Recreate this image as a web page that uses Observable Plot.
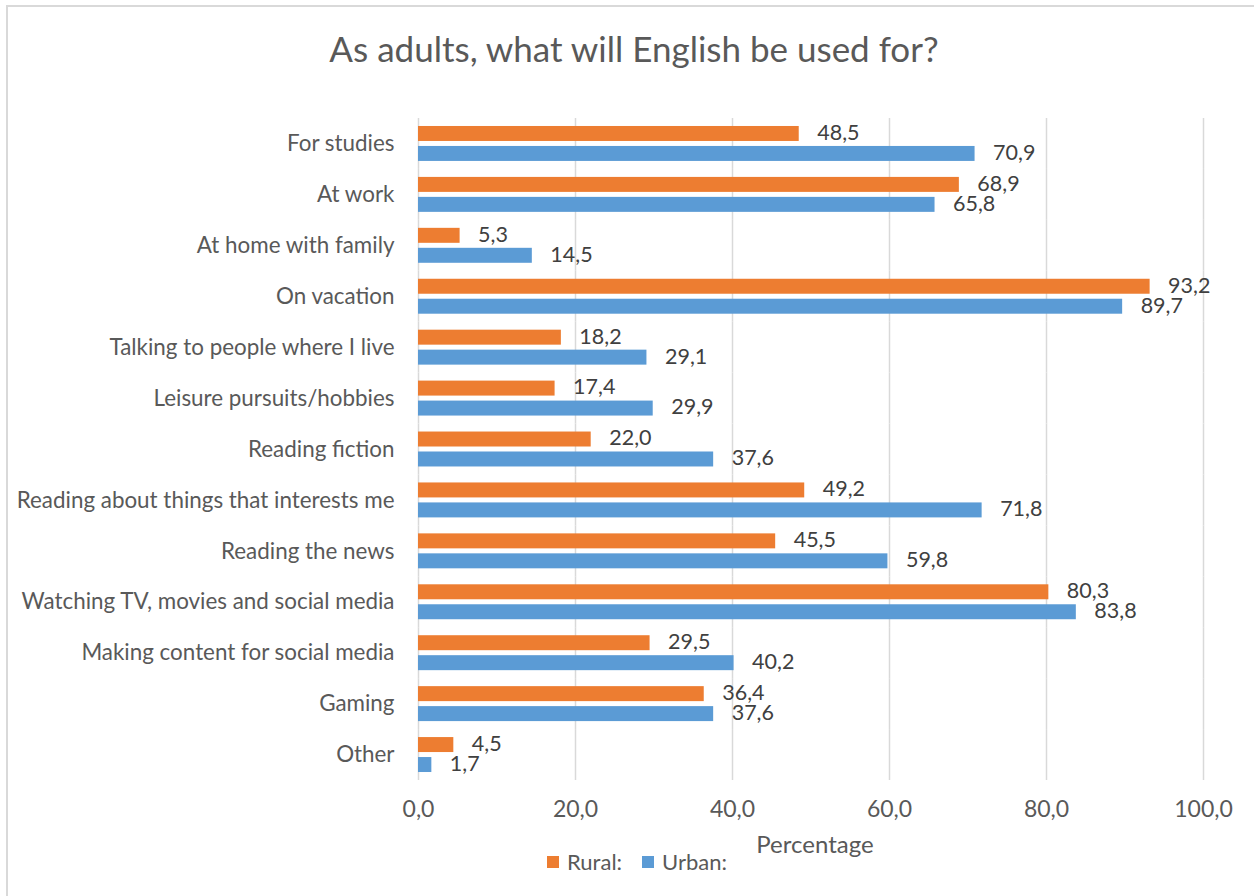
<!DOCTYPE html>
<html>
<head>
<meta charset="utf-8">
<script src="https://cdn.jsdelivr.net/npm/d3@7"></script>
<script src="https://cdn.jsdelivr.net/npm/@observablehq/plot@0.6"></script>
<style>
  html, body { margin: 0; padding: 0; background: #fff; }
  #wrap { position: relative; width: 1254px; height: 896px; overflow: hidden; font-family: Lato, "Open Sans", sans-serif; color: #595959; }
  #border { position: absolute; left: 6px; top: 5px; width: 1260px; height: 900px; border: 2px solid #d9d9d9; pointer-events: none; }
  #title { height: 100px; line-height: 96px; text-align: center; font-size: 35px; color: #595959; margin: 0; font-weight: normal; padding-left: 14px; box-sizing: border-box; }
  #xlabel { position: absolute; top: 829px; left: 715px; width: 200px; text-align: center; font-size: 24px; line-height: 30px; color: #595959; }
  #legend { position: absolute; top: 848px; left: 0; width: 1254px; display: flex; justify-content: center; font-size: 22px; line-height: 28px; color: #595959; padding-left: 20px; box-sizing: border-box; }
  #legend span.item { display: inline-flex; align-items: center; margin: 0 10px; }
  #legend span.sw { display: inline-block; width: 12px; height: 12px; margin-right: 8px; }
  svg { display: block; }
</style>
</head>
<body>
<div id="wrap">
  <div id="title">As adults, what will English be used for?</div>
  <div id="chart"></div>
  <div id="xlabel">Percentage</div>
  <div id="legend"></div>
  <div id="border"></div>
</div>
<script>
const categories = [
  "For studies",
  "At work",
  "At home with family",
  "On vacation",
  "Talking to people where I live",
  "Leisure pursuits/hobbies",
  "Reading fiction",
  "Reading about things that interests me",
  "Reading the news",
  "Watching TV, movies and social media",
  "Making content for social media",
  "Gaming",
  "Other"
];
const seriesNames = ["Rural:", "Urban:"];
const rural = [48.5, 68.9, 5.3, 93.2, 18.2, 17.4, 22.0, 49.2, 45.5, 80.3, 29.5, 36.4, 4.5];
const urban = [70.9, 65.8, 14.5, 89.7, 29.1, 29.9, 37.6, 71.8, 59.8, 83.8, 40.2, 37.6, 1.7];
const xTicks = [0, 20, 40, 60, 80, 100];
const colors = ["#ED7D31", "#5B9BD5"];

const data = [];
categories.forEach((c, i) => {
  data.push({category: c, series: seriesNames[0], value: rural[i]});
  data.push({category: c, series: seriesNames[1], value: urban[i]});
});

const fmt = d => d.toFixed(1).replace(".", ",");

const chart = Plot.plot({
  width: 1254,
  height: 728,
  marginTop: 18,
  marginBottom: 48,
  marginLeft: 418,
  marginRight: 51,
  style: {fontFamily: "Lato, 'Open Sans', sans-serif", fontSize: "22px", color: "#595959", background: "transparent"},
  x: {domain: [0, 100], ticks: xTicks},
  y: {domain: seriesNames, paddingInner: 0.25, paddingOuter: 0.4, axis: null, round: false},
  fy: {domain: categories, padding: 0, round: false},
  color: {domain: seriesNames, range: colors},
  marks: [
    Plot.gridX(xTicks, {stroke: "#d9d9d9", strokeOpacity: 1, strokeWidth: 1.5}),
    Plot.barX(data, {fy: "category", y: "series", x: "value", fill: "series"}),
    Plot.text(data, {fy: "category", y: "series", x: "value", text: d => fmt(d.value), textAnchor: "start", dx: 18, dy: -1, fontSize: 21.5, fill: "#404040"}),
    Plot.axisFy({anchor: "left", tickSize: 0, tickPadding: 24, label: null, fontSize: 22.4, fill: "#595959"}),
    Plot.axisX({anchor: "bottom", ticks: xTicks, tickSize: 0, tickPadding: 20, tickFormat: fmt, fontSize: 23, fill: "#595959", label: null})
  ]
});
document.getElementById("chart").appendChild(chart);

const legend = document.getElementById("legend");
seriesNames.forEach((s, i) => {
  const item = document.createElement("span");
  item.className = "item";
  const sw = document.createElement("span");
  sw.className = "sw";
  sw.style.background = colors[i];
  item.appendChild(sw);
  item.appendChild(document.createTextNode(s));
  legend.appendChild(item);
});
</script>
</body>
</html>
